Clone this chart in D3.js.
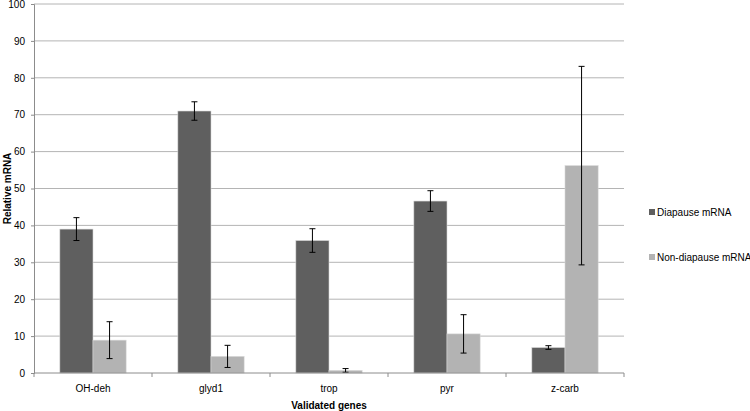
<!DOCTYPE html>
<html>
<head>
<meta charset="utf-8">
<script src="https://cdn.jsdelivr.net/npm/d3@7"></script>
<style>
  body { margin: 0; background: #fff; }
  text { font-family: "Liberation Sans", Arial, sans-serif; fill: #000; }
</style>
</head>
<body>
<div id="chart"></div>
<script>
// gene names on the x axis
var genes = ["OH-deh", "glyd1", "trop", "pyr", "z-carb"];
var seriesNames = ["Diapause mRNA", "Non-diapause mRNA"];

// relative mRNA values
var diapause = [39.0, 71.0, 35.9, 46.6, 6.9];
var diapauseErr = [3.1, 2.5, 3.2, 2.8, 0.5];
var nonDiapause = [8.9, 4.5, 0.7, 10.6, 56.2];
var nonDiapauseErr = [5.0, 3.0, 0.5, 5.2, 26.9];

var yTicks = [0, 10, 20, 30, 40, 50, 60, 70, 80, 90, 100];

var svgWidth = 750, svgHeight = 411;
var margin = {top: 4, right: 126, bottom: 38, left: 34};
var chartWidth = svgWidth - margin.left - margin.right;
var chartHeight = svgHeight - margin.top - margin.bottom;

var colors = ["#5f5f5f", "#b3b3b3"];

var svg = d3.select("#chart").append("svg")
    .attr("width", svgWidth)
    .attr("height", svgHeight);

var chartGroup = svg.append("g")
    .attr("transform", `translate(${margin.left}, ${margin.top})`);

var xScale = d3.scaleBand()
    .domain(genes)
    .range([0, chartWidth]);

var inner = d3.scaleBand()
    .domain(seriesNames)
    .range([0, xScale.bandwidth()])
    .paddingOuter(0.78)
    .paddingInner(0);

var yScale = d3.scaleLinear()
    .domain([0, 100])
    .range([chartHeight, 0]);

// gridlines
chartGroup.append("g")
  .selectAll("line")
  .data(yTicks.slice(1))
  .enter()
  .append("line")
    .attr("x1", 0)
    .attr("x2", chartWidth)
    .attr("y1", d => yScale(d))
    .attr("y2", d => yScale(d))
    .attr("stroke", "#b4b4b4")
    .attr("stroke-width", 1);

// y axis
var yAxis = d3.axisLeft(yScale).tickValues(yTicks).tickSize(3).tickPadding(6);
var yG = chartGroup.append("g").call(yAxis);
yG.select(".domain").attr("stroke", "#8c8c8c");
yG.selectAll(".tick line").attr("stroke", "#8c8c8c");
yG.selectAll("text")
    .style("font-size", "10px")
    .style("font-family", "'Liberation Sans', Arial, sans-serif")
    .attr("fill", "#000");

// bars
var data = genes.map((g, i) => ({
  gene: g,
  vals: [
    {s: seriesNames[0], v: diapause[i], e: diapauseErr[i], c: colors[0]},
    {s: seriesNames[1], v: nonDiapause[i], e: nonDiapauseErr[i], c: colors[1]}
  ]
}));

var groups = chartGroup.selectAll(".gene")
  .data(data)
  .enter()
  .append("g")
    .attr("class", "gene")
    .attr("transform", d => `translate(${xScale(d.gene)}, 0)`);

groups.selectAll("rect")
  .data(d => d.vals)
  .enter()
  .append("rect")
    .attr("x", d => inner(d.s))
    .attr("y", d => yScale(d.v))
    .attr("width", inner.bandwidth())
    .attr("height", d => chartHeight - yScale(d.v))
    .attr("fill", d => d.c)
    .attr("stroke", "#d8d8d8")
    .attr("stroke-width", 0.6);

// error bars
var eb = groups.selectAll(".err")
  .data(d => d.vals)
  .enter()
  .append("g")
    .attr("class", "err")
    .attr("stroke", "#000")
    .attr("stroke-width", 1);

eb.append("line")
    .attr("x1", d => inner(d.s) + inner.bandwidth() / 2)
    .attr("x2", d => inner(d.s) + inner.bandwidth() / 2)
    .attr("y1", d => yScale(d.v + d.e))
    .attr("y2", d => yScale(d.v - d.e));
eb.append("line")
    .attr("x1", d => inner(d.s) + inner.bandwidth() / 2 - 3)
    .attr("x2", d => inner(d.s) + inner.bandwidth() / 2 + 3)
    .attr("y1", d => yScale(d.v + d.e))
    .attr("y2", d => yScale(d.v + d.e));
eb.append("line")
    .attr("x1", d => inner(d.s) + inner.bandwidth() / 2 - 3)
    .attr("x2", d => inner(d.s) + inner.bandwidth() / 2 + 3)
    .attr("y1", d => yScale(d.v - d.e))
    .attr("y2", d => yScale(d.v - d.e));

// x axis (ticks at category boundaries)
var xG = chartGroup.append("g")
    .attr("transform", `translate(0, ${chartHeight})`);
xG.append("line")
    .attr("x1", 0).attr("x2", chartWidth)
    .attr("stroke", "#8c8c8c");
xG.selectAll(".bt")
  .data(genes.concat(["end"]))
  .enter()
  .append("line")
    .attr("x1", (d, i) => i * xScale.step())
    .attr("x2", (d, i) => i * xScale.step())
    .attr("y1", 0).attr("y2", 4)
    .attr("stroke", "#8c8c8c");
xG.selectAll(".lbl")
  .data(genes)
  .enter()
  .append("text")
    .attr("x", d => xScale(d) + xScale.bandwidth() / 2)
    .attr("y", 19)
    .attr("text-anchor", "middle")
    .style("font-size", "10px")
    .text(d => d);

// axis titles
svg.append("text")
    .attr("x", margin.left + chartWidth / 2)
    .attr("y", 409)
    .attr("text-anchor", "middle")
    .style("font-size", "10px")
    .style("font-weight", "bold")
    .text("Validated genes");

svg.append("text")
    .attr("transform", `translate(11, ${margin.top + chartHeight / 2}) rotate(-90)`)
    .attr("text-anchor", "middle")
    .style("font-size", "10px")
    .style("font-weight", "bold")
    .text("Relative mRNA");

// legend
var legend = svg.selectAll(".legend")
  .data(seriesNames)
  .enter()
  .append("g")
    .attr("class", "legend")
    .attr("transform", (d, i) => `translate(649, ${209 + i * 45})`);
legend.append("rect")
    .attr("width", 6).attr("height", 6)
    .attr("fill", (d, i) => colors[i]);
legend.append("text")
    .attr("x", 8)
    .attr("y", 7)
    .style("font-size", "10px")
    .text(d => d);
</script>
</body>
</html>
